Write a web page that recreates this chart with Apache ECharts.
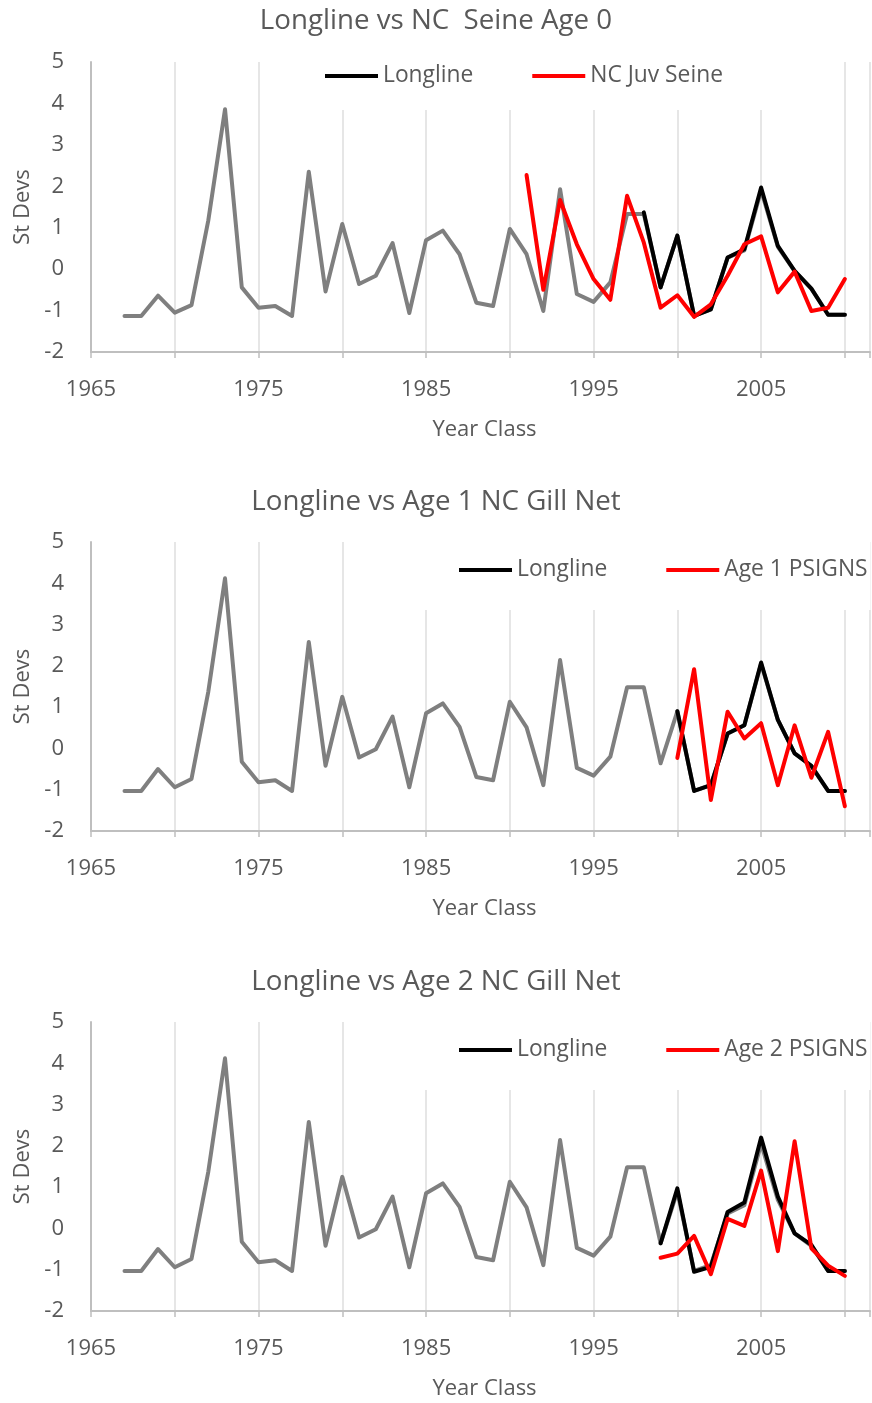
<!DOCTYPE html>
<html>
<head>
<meta charset="utf-8">
<script src="https://cdn.jsdelivr.net/npm/echarts@6/dist/echarts.min.js"></script>
<style>
html,body{margin:0;padding:0;background:#fff;}
#c{width:872px;height:1403px;}
</style>
</head>
<body>
<div id="c"></div>
<script>
// ---------- data ----------
const YEARS_ALL = [1967,1968,1969,1970,1971,1972,1973,1974,1975,1976,1977,1978,1979,1980,1981,1982,1983,1984,1985,1986,1987,1988,1989,1990,1991,1992,1993,1994,1995,1996,1997,1998,1999,2000,2001,2002,2003,2004,2005,2006,2007,2008,2009,2010];

// Panel 1: Longline vs NC Seine Age 0
const P1_TITLE = 'Longline vs NC  Seine Age 0';
const P1_GRAY = [-1.13,-1.13,-0.64,-1.05,-0.87,1.17,3.86,-0.44,-0.93,-0.89,-1.13,2.35,-0.54,1.09,-0.36,-0.16,0.63,-1.06,0.70,0.93,0.36,-0.81,-0.89,0.97,0.36,-1.01,1.93,-0.60,-0.79,-0.32,1.33,1.33,-0.44,0.81,-1.13,-0.97,0.28,0.45,1.90,0.54,-0.05,-0.47,-1.10,-1.10];
const P1_BLACK_YEARS = [1998,1999,2000,2001,2002,2003,2004,2005,2006,2007,2008,2009,2010];
const P1_BLACK = [1.37,-0.44,0.81,-1.13,-0.97,0.28,0.48,1.97,0.56,-0.04,-0.47,-1.10,-1.10];
const P1_RED_NAME = 'NC Juv Seine';
const P1_RED_YEARS = [1991,1992,1993,1994,1995,1996,1997,1998,1999,2000,2001,2002,2003,2004,2005,2006,2007,2008,2009,2010];
const P1_RED = [2.27,-0.50,1.67,0.60,-0.24,-0.74,1.77,0.64,-0.93,-0.63,-1.15,-0.85,-0.16,0.60,0.79,-0.56,-0.06,-1.01,-0.93,-0.24];

// Panel 2: Longline vs Age 1 NC Gill Net
const P2_TITLE = 'Longline vs Age 1 NC Gill Net';
const P2_GRAY = [-1.03,-1.03,-0.50,-0.94,-0.74,1.37,4.12,-0.32,-0.82,-0.77,-1.03,2.58,-0.42,1.25,-0.22,-0.02,0.77,-0.94,0.85,1.09,0.52,-0.69,-0.77,1.13,0.51,-0.89,2.14,-0.47,-0.66,-0.20,1.48,1.48,-0.36,0.90,-1.03,-0.89,0.36,0.56,2.05,0.69,-0.12,-0.42,-1.03,-1.03];
const P2_BLACK_YEARS = [2000,2001,2002,2003,2004,2005,2006,2007,2008,2009,2010];
const P2_BLACK = [0.90,-1.03,-0.89,0.36,0.56,2.08,0.69,-0.12,-0.42,-1.03,-1.03];
const P2_RED_NAME = 'Age 1 PSIGNS';
const P2_RED_YEARS = [2000,2001,2002,2003,2004,2005,2006,2007,2008,2009,2010];
const P2_RED = [-0.23,1.92,-1.25,0.89,0.24,0.61,-0.89,0.56,-0.71,0.40,-1.40];

// Panel 3: Longline vs Age 2 NC Gill Net
const P3_TITLE = 'Longline vs Age 2 NC Gill Net';
const P3_GRAY = [-1.03,-1.03,-0.50,-0.94,-0.74,1.37,4.12,-0.32,-0.82,-0.77,-1.03,2.58,-0.42,1.25,-0.22,-0.02,0.77,-0.94,0.85,1.09,0.52,-0.69,-0.77,1.13,0.51,-0.89,2.14,-0.47,-0.66,-0.20,1.48,1.48,-0.36,0.90,-1.03,-0.89,0.36,0.56,2.05,0.69,-0.12,-0.42,-1.03,-1.03];
const P3_BLACK_YEARS = [1999,2000,2001,2002,2003,2004,2005,2006,2007,2008,2009,2010];
const P3_BLACK = [-0.36,0.97,-1.05,-0.93,0.40,0.63,2.20,0.77,-0.12,-0.40,-1.03,-1.03];
const P3_RED_NAME = 'Age 2 PSIGNS';
const P3_RED_YEARS = [1999,2000,2001,2002,2003,2004,2005,2006,2007,2008,2009,2010];
const P3_RED = [-0.71,-0.61,-0.18,-1.11,0.23,0.06,1.40,-0.55,2.11,-0.48,-0.90,-1.15];

const X_LABELS = [1965,1975,1985,1995,2005];
const Y_NAME = 'St Devs';
const X_NAME = 'Year Class';

// ---------- build ----------
const FONT = '"Open Sans", sans-serif';
const TXT = '#595959';
const pairs = (xs, ys) => xs.map((x, i) => [x, ys[i]]);

const panels = [
  {title:P1_TITLE, gray:P1_GRAY, bY:P1_BLACK_YEARS, b:P1_BLACK, rName:P1_RED_NAME, rY:P1_RED_YEARS, r:P1_RED,
   top:62, h:290, titleTop:7, legend:{left:305, top:62, pad:[2,50,22,20]}},
  {title:P2_TITLE, gray:P2_GRAY, bY:P2_BLACK_YEARS, b:P2_BLACK, rName:P2_RED_NAME, rY:P2_RED_YEARS, r:P2_RED,
   top:542, h:289, titleTop:488, legend:{left:400, top:542, pad:[16,3,28,59]}},
  {title:P3_TITLE, gray:P3_GRAY, bY:P3_BLACK_YEARS, b:P3_BLACK, rName:P3_RED_NAME, rY:P3_RED_YEARS, r:P3_RED,
   top:1022, h:289, titleTop:968, legend:{left:400, top:1022, pad:[16,3,28,59]}}
];

const option = {
  backgroundColor:'#fff',
  animation:false,
  title:[], grid:[], xAxis:[], yAxis:[], series:[], legend:[]
};

panels.forEach((p, i) => {
  option.title.push({
    text:p.title, left:'center', top:p.titleTop, padding:0,
    textStyle:{fontFamily:FONT, fontSize:27.7, fontWeight:'normal', color:TXT}
  });
  option.grid.push({left:91, width:779, top:p.top, height:p.h, containLabel:false});
  // axis carrying gridlines + bottom labels
  option.xAxis.push({
    type:'value', gridIndex:i, min:1965, max:2011.5, interval:5,
    axisLine:{show:false}, axisTick:{show:false},
    axisLabel:{show:true, margin:27, color:TXT, fontFamily:FONT, fontSize:22,
      showMaxLabel:false,
      formatter:(v)=> X_LABELS.indexOf(v) >= 0 ? String(v) : ''},
    splitLine:{show:true, lineStyle:{color:'#dedede', width:1.5}},
    name:X_NAME, nameLocation:'middle', nameGap:67,
    nameTextStyle:{color:TXT, fontFamily:FONT, fontSize:22, padding:[0,0,0,8]}
  });
  // axis drawn on zero line
  option.xAxis.push({
    type:'value', gridIndex:i, min:1965, max:2011.5, interval:5, position:'bottom',
    axisLine:{show:true, onZero:true, lineStyle:{color:'#bfbfbf', width:2}},
    axisTick:{show:true, length:6, inside:false, lineStyle:{color:'#bfbfbf', width:1.5}},
    axisLabel:{show:false}, splitLine:{show:false}
  });
  option.yAxis.push({
    type:'value', gridIndex:i, min:-2, max:5, interval:1,
    axisLine:{show:true, onZero:false, lineStyle:{color:'#bfbfbf', width:2}},
    axisTick:{show:false},
    splitLine:{show:false},
    axisLabel:{color:TXT, fontFamily:FONT, fontSize:22, margin:27},
    name:Y_NAME, nameLocation:'middle', nameGap:56,
    nameTextStyle:{color:TXT, fontFamily:FONT, fontSize:22}
  });
  const xi = i*2;
  option.series.push({
    name:'Longline (all years) '+(i+1), type:'line', xAxisIndex:xi, yAxisIndex:i,
    data:pairs(YEARS_ALL, p.gray), showSymbol:false, symbol:'none', z:2,
    lineStyle:{color:'#7f7f7f', width:4, join:'round', cap:'round'}, itemStyle:{color:'#7f7f7f'}
  });
  option.series.push({
    name:'Longline', type:'line', xAxisIndex:xi, yAxisIndex:i,
    data:pairs(p.bY, p.b), showSymbol:false, symbol:'none', z:3,
    lineStyle:{color:'#000', width:4, join:'round', cap:'round'}, itemStyle:{color:'#000'}
  });
  option.series.push({
    name:p.rName, type:'line', xAxisIndex:xi, yAxisIndex:i,
    data:pairs(p.rY, p.r), showSymbol:false, symbol:'none', z:4,
    lineStyle:{color:'#ff0000', width:4, join:'round', cap:'round'}, itemStyle:{color:'#ff0000'}
  });
  option.legend.push({
    data:['Longline', p.rName], left:p.legend.left, top:p.legend.top,
    padding:p.legend.pad, backgroundColor:'#fff', z:5,
    icon:'rect', itemWidth:53, itemHeight:4, itemGap:59,
    selectedMode:false,
    textStyle:{color:TXT, fontFamily:FONT, fontSize:22.8, lineHeight:24, padding:[0,0,0,0]}
  });
});

const chart = echarts.init(document.getElementById('c'), null, {renderer:'canvas'});
chart.setOption(option);
</script>
</body>
</html>
